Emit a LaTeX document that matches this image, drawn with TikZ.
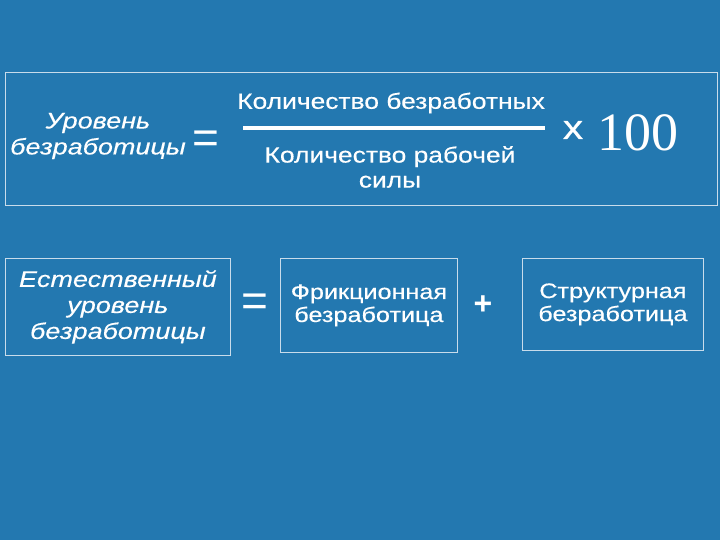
\documentclass[tikz,border=0pt]{standalone}
\usepackage{fontspec}
\setmainfont{Liberation Sans}
\newfontfamily\serifnum{Liberation Serif}
\newfontfamily\wideA[FakeStretch=1.2,FakeBold=0.4]{Liberation Sans}
\newfontfamily\wideB[FakeStretch=1.2,FakeBold=0.4]{Liberation Sans}
\definecolor{bg}{RGB}{35,120,176}
\definecolor{ln}{RGB}{200,220,235}
\begin{document}
\begin{tikzpicture}[x=1pt,y=-1pt,
  frame/.style={draw=ln,line width=0.8pt,inner sep=0pt},
  txt/.style={text=white,align=center,font=\wideB\fontsize{21}{23}\selectfont},
  ftx/.style={text=white,align=center,font=\wideA\fontsize{22}{25}\selectfont},
  itx/.style={txt,font=\wideB\fontsize{22.5}{26}\selectfont\itshape},
  eq/.style={text=white,font=\fontsize{46}{46}\selectfont}]
\fill[bg] (0,0) rectangle (720,540);
\useasboundingbox (0,0) rectangle (720,540);
\node[frame,minimum width=712,minimum height=133,anchor=north west] (top) at (5,72) {};
\node[itx] (u) at (98,136) {Уровень\\безработицы};
\node[eq] (e1) at (206,142) {=};
\node[ftx] (n1) at (391,103) {Количество безработных};
\coordinate (l1) at (243,128); \coordinate (l2) at (545,128);
\draw[white,line width=4pt] (l1) -- (l2);
\node[ftx] (d1) at (390,167) {Количество рабочей\\силы};
\node[text=white,font=\wideB\fontsize{34}{34}\selectfont] (x) at (573,130) {x};
\node[text=white,font=\fontsize{54}{54}\selectfont\serifnum] (h) at (638,133) {100};
\node[frame,itx,minimum width=225,minimum height=97,anchor=north west] (nat) at (5,258) {Естественный\\уровень\\безработицы};
\node[eq] (e2) at (255,305) {=};
\node[frame,txt,minimum width=177,minimum height=94,anchor=north west] (fr) at (280,258) {Фрикционная\\безработица};
\node[text=white,font=\fontsize{32}{32}\selectfont\bfseries] (p) at (483,305) {+};
\node[frame,txt,minimum width=181,minimum height=92,anchor=north west] (st) at (522,258) {Структурная\\безработица};
\end{tikzpicture}
\end{document}
